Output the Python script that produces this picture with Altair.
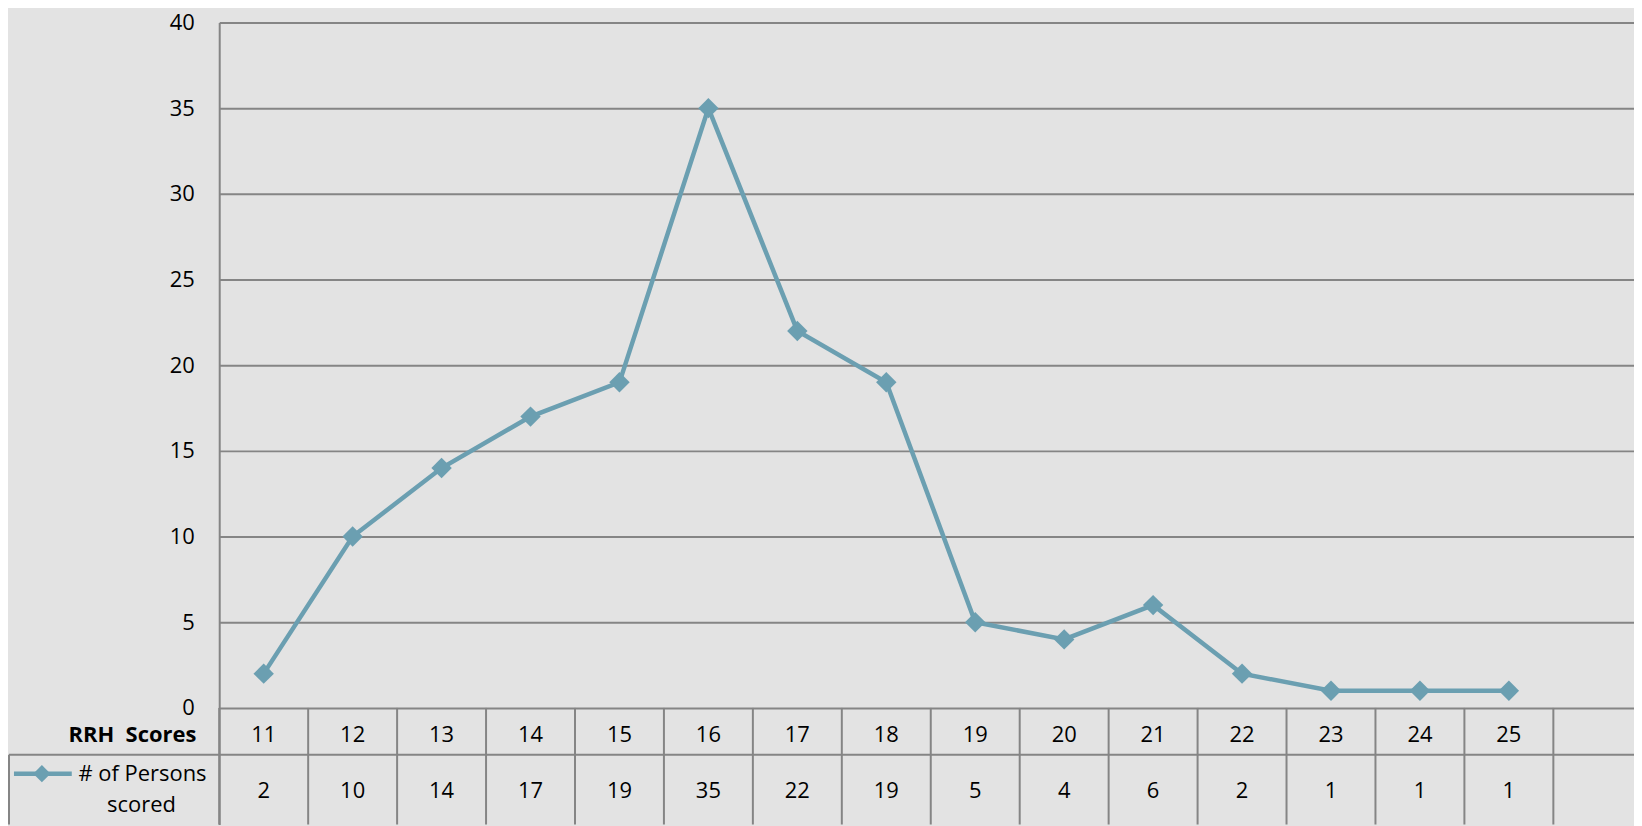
import altair as alt
import pandas as pd

# ---- data ----
scores = [11, 12, 13, 14, 15, 16, 17, 18, 19, 20, 21, 22, 23, 24, 25]
counts = [2, 10, 14, 17, 19, 35, 22, 19, 5, 4, 6, 2, 1, 1, 1]
y_ticks = [0, 5, 10, 15, 20, 25, 30, 35, 40]
category_title = "RRH  Scores"
series_line1 = "# of Persons"
series_line2 = "scored"

# ---- style / layout ----
LINE = "#6B9FB1"
GRID = "#858585"
BG = "#e3e3e3"
FONT = "Open Sans"
FS = 22

LEFT, TOP = 220, 21          # page position of plot origin
SLOT = 89.27                 # px per category slot
PX_PER_UNIT = 688 / 40       # px per count unit
W = 1420
H = 805

x_lo = scores[0] - 0.5
x_hi = x_lo + W / SLOT
y_hi = 40
y_lo = y_hi - H / PX_PER_UNIT


def xd(page_x):
    return x_lo + (page_x - LEFT) / SLOT


def yd(page_y):
    return y_hi - (page_y - TOP) / PX_PER_UNIT


xs = alt.Scale(domain=[x_lo, x_hi], nice=False, zero=False)
ys = alt.Scale(domain=[y_lo, y_hi], nice=False, zero=False)
YAXIS = alt.Axis(
    values=y_ticks, title=None, grid=True, gridColor=GRID, gridWidth=2,
    domain=True, domainColor=GRID, domainWidth=2, ticks=False,
    labelPadding=25, labelFontSize=FS, labelFont=FONT, labelColor="#000",
)


def X(f):
    return alt.X(f, type="quantitative", scale=xs, axis=None)


def Y(f):
    return alt.Y(f, type="quantitative", scale=ys, axis=YAXIS)


df = pd.DataFrame({"score": scores, "count": counts})
df["cat_y"] = yd(736)
df["val_y"] = yd(792)

bounds = pd.DataFrame({"b": [s - 0.5 for s in scores] + [scores[-1] + 0.5]})
bounds["y1"] = 0.0
bounds["y2"] = y_lo

line = alt.Chart(df).mark_line(
    color=LINE, strokeWidth=4.5,
    point=alt.OverlayMarkDef(shape="diamond", filled=True, size=420, color=LINE, opacity=1),
).encode(x=X("score"), y=Y("count"))

cat_text = alt.Chart(df).mark_text(fontSize=FS, font=FONT, color="#000", baseline="middle").encode(
    x=X("score"), y=Y("cat_y"), text="score:N"
)
val_text = alt.Chart(df).mark_text(fontSize=FS, font=FONT, color="#000", baseline="middle").encode(
    x=X("score"), y=Y("val_y"), text="count:Q"
)
vsep = alt.Chart(bounds).mark_rule(color=GRID, strokeWidth=2).encode(
    x=X("b"), y=Y("y1"), y2=alt.Y2("y2")
)

hl = pd.DataFrame({"x1": [xd(9)], "x2": [x_hi], "y": [yd(756)]})
row2_top = alt.Chart(hl).mark_rule(color=GRID, strokeWidth=2).encode(
    x=X("x1"), x2=alt.X2("x2"), y=Y("y")
)
vl = pd.DataFrame({"x": [xd(9)], "y1": [yd(756)], "y2": [y_lo]})
row2_left = alt.Chart(vl).mark_rule(color=GRID, strokeWidth=2).encode(
    x=X("x"), y=Y("y1"), y2=alt.Y2("y2")
)

labels = pd.DataFrame({
    "t": [category_title.replace(" ", "\u00a0")],
    "x": [xd(197)],
    "y": [yd(736)],
})
cat_title = alt.Chart(labels).mark_text(
    fontSize=FS, fontWeight="bold", font=FONT, color="#000", align="right", baseline="middle",
).encode(x=X("x"), y=Y("y"), text="t:N")

leg = pd.DataFrame({"x1": [xd(14)], "x2": [xd(72)], "y": [yd(775)], "xm": [xd(42)]})
leg_line = alt.Chart(leg).mark_rule(color=LINE, strokeWidth=4.5).encode(
    x=X("x1"), x2=alt.X2("x2"), y=Y("y")
)
leg_pt = alt.Chart(leg).mark_point(shape="diamond", filled=True, size=300, color=LINE, opacity=1).encode(
    x=X("xm"), y=Y("y")
)
legt = pd.DataFrame({
    "t": [series_line1, series_line2],
    "x": [xd(143), xd(142)],
    "y": [yd(775), yd(806)],
})
leg_text = alt.Chart(legt).mark_text(
    fontSize=FS, font=FONT, color="#000", align="center", baseline="middle",
).encode(x=X("x"), y=Y("y"), text="t:N")

chart = alt.layer(
    line, vsep, row2_top, row2_left, cat_text, val_text, cat_title, leg_line, leg_pt, leg_text
).properties(
    width=W, height=H,
    autosize=alt.AutoSizeParams(type="none"),
    padding={"left": LEFT - 8, "top": TOP - 8, "right": 0, "bottom": 0},
    background=BG,
).configure_view(strokeWidth=0)

chart.save("out.html", embed_options={"renderer": "svg", "actions": False})
